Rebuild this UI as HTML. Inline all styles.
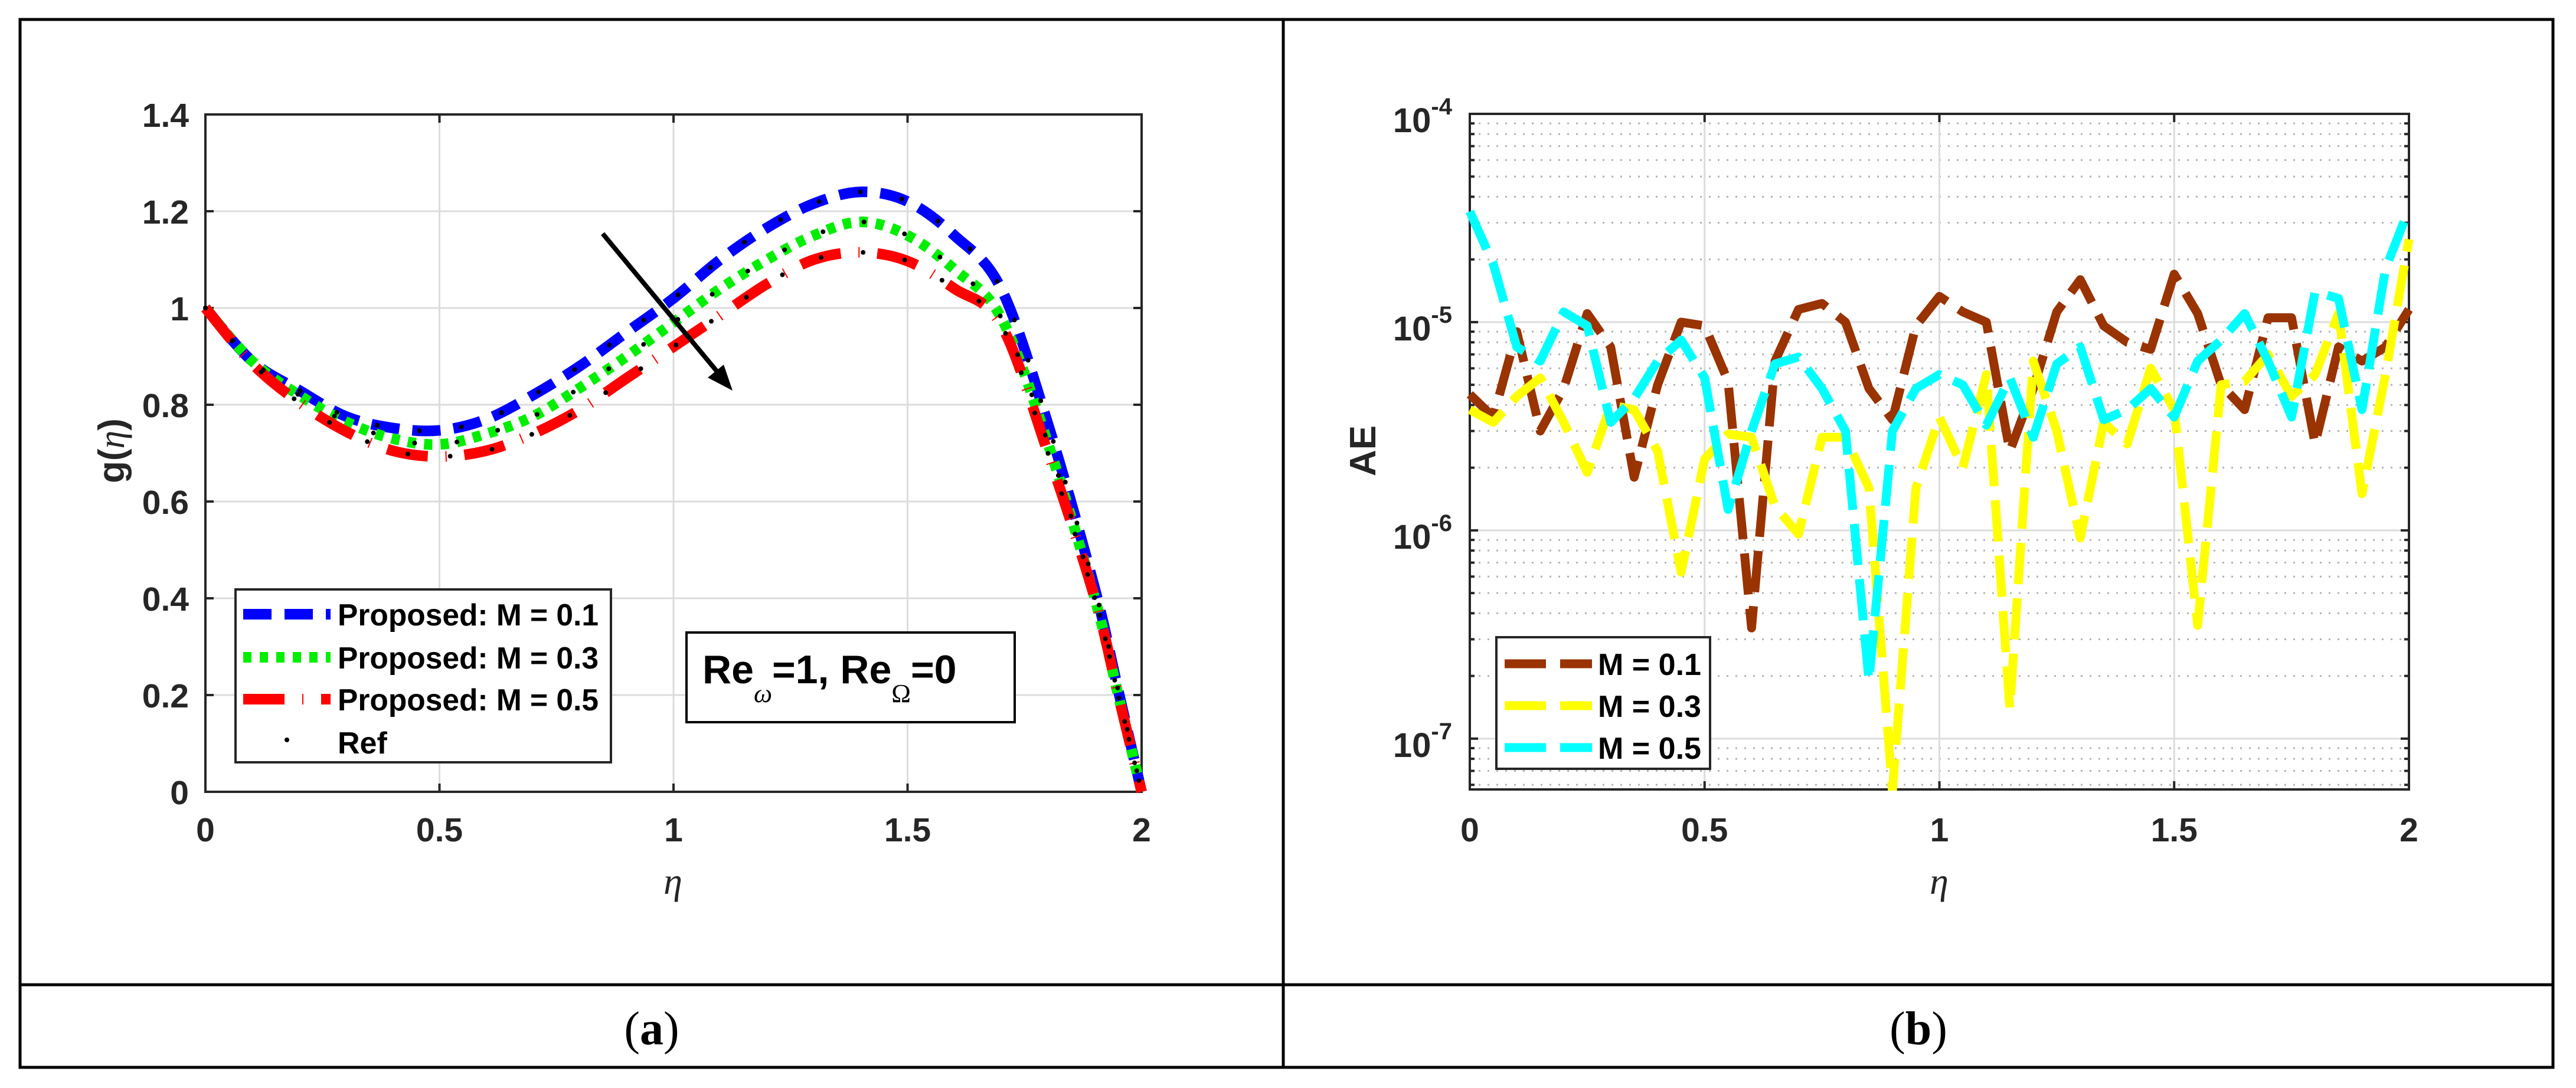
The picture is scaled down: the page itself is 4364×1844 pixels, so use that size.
<!DOCTYPE html>
<html><head><meta charset="utf-8"><style>
html,body{margin:0;padding:0;background:#fff;}
svg{display:block;}
text{font-family:"Liberation Sans",Arial,sans-serif;}
</style></head><body>
<svg id="fig" width="4364" height="1844" viewBox="0 0 4364 1844" xmlns="http://www.w3.org/2000/svg">
<g stroke="#000" stroke-width="5" fill="none">
<rect x="34" y="33" width="4291" height="1776"/>
<line x1="2174" y1="33" x2="2174" y2="1809"/>
<line x1="34" y1="1669" x2="4325" y2="1669"/>
</g>
<text x="1104" y="1770" text-anchor="middle" font-size="80" style="font-family:'Liberation Serif',serif">(<tspan font-weight="bold">a</tspan>)</text>
<text x="3250" y="1770" text-anchor="middle" font-size="80" style="font-family:'Liberation Serif',serif">(<tspan font-weight="bold">b</tspan>)</text>
<g id="chartA"></g>
<g id="chartB"></g>
</svg>
<script>
// ---------- Chart A data ----------
const etaA = [0,0.1,0.2,0.3,0.4,0.5,0.6,0.7,0.8,0.9,1.0,1.1,1.2,1.3,1.4,1.5,1.6,1.7,1.8,1.9,1.95,2.0];
const gM01 = [1,0.89,0.83,0.776,0.752,0.747,0.77,0.82,0.88,0.95,1.02,1.10,1.166,1.216,1.24,1.22,1.15,1.04,0.76,0.42,0.21,0];
const gM03 = [1,0.89,0.82,0.765,0.73,0.718,0.74,0.776,0.835,0.9,0.97,1.04,1.10,1.15,1.178,1.15,1.08,0.98,0.72,0.40,0.2,0];
const gM05 = [1,0.885,0.805,0.745,0.705,0.693,0.705,0.74,0.79,0.855,0.92,0.985,1.05,1.10,1.115,1.097,1.04,0.965,0.70,0.40,0.2,0];
const xTicksA = [0,0.5,1,1.5,2];
const yTicksA = [0,0.2,0.4,0.6,0.8,1,1.2,1.4];
// ---------- Chart B data ----------
const etaB = [0,0.05,0.1,0.15,0.2,0.25,0.3,0.35,0.4,0.45,0.5,0.55,0.6,0.65,0.7,0.75,0.8,0.85,0.9,0.95,1.0,1.05,1.1,1.15,1.2,1.25,1.3,1.35,1.4,1.45,1.5,1.55,1.6,1.65,1.7,1.75,1.8,1.85,1.9,1.95,2.0];
const aeM01 = [4.5e-6,3.5e-6,9e-6,3e-6,4.8e-6,1.1e-5,7.6e-6,1.8e-6,5e-6,1e-5,9.6e-6,5.2e-6,3.4e-7,6.5e-6,1.15e-5,1.23e-5,1e-5,4.8e-6,3.4e-6,9.6e-6,1.33e-5,1.12e-5,1e-5,2.4e-6,4.8e-6,1.12e-5,1.6e-5,9.6e-6,8e-6,7.4e-6,1.7e-5,1.1e-5,5e-6,3.8e-6,1.05e-5,1.05e-5,2.6e-6,7.6e-6,6.5e-6,7.6e-6,1.15e-5];
const aeM03 = [3.8e-6,3.3e-6,4.4e-6,5.4e-6,3.3e-6,1.9e-6,4e-6,3.8e-6,2.4e-6,6.3e-7,2.2e-6,2.9e-6,2.8e-6,1.3e-6,9.6e-7,2.8e-6,2.8e-6,1.6e-6,5.6e-8,1.6e-6,3.5e-6,2e-6,5.6e-6,1.4e-7,6.5e-6,3e-6,9.2e-7,3.3e-6,2.6e-6,6e-6,3.8e-6,3.5e-7,5e-6,5.2e-6,7e-6,4.4e-6,5.6e-6,1.1e-5,1.5e-6,5.6e-6,2.5e-5];
const aeM05 = [3.4e-5,1.9e-5,7.6e-6,6.5e-6,1.12e-5,9.6e-6,3.3e-6,4.3e-6,6.5e-6,8.2e-6,5.4e-6,1.26e-6,3e-6,6.3e-6,6.8e-6,4.8e-6,3e-6,1.9e-7,3e-6,4.8e-6,5.6e-6,5e-6,3.2e-6,5.4e-6,2.8e-6,6.3e-6,7.6e-6,3.4e-6,3.8e-6,4.8e-6,3.5e-6,6.5e-6,8.2e-6,1.1e-5,6.5e-6,3.5e-6,1.4e-5,1.3e-5,3.8e-6,1.8e-5,3.5e-5];
const xTicksB = [0,0.5,1,1.5,2];
const yDecadesB = [-7,-6,-5,-4];

const NS = "http://www.w3.org/2000/svg";
function mk(parent, tag, attrs){const e=document.createElementNS(NS,tag);for(const k in attrs)e.setAttribute(k,attrs[k]);parent.appendChild(e);return e;}

// ===== Chart A =====
(function(){
const g=document.getElementById('chartA');
const L=348,R=1934,T=194,B=1342;
const xs=v=>L+(v-0)/(2-0)*(R-L);
const ys=v=>B-(v-0)/(1.4-0)*(B-T);
for(const t of xTicksA){
 const l=mk(g,'line',{x1:xs(t),y1:T,x2:xs(t),y2:B,stroke:'#dcdcdc','stroke-width':3});
 
 
 const tx=mk(g,'text',{x:xs(t),y:1426,'text-anchor':'middle','font-size':57,'font-weight':'bold',fill:'#262626'});
 tx.textContent=String(t);
 
 
 mk(g,'line',{x1:xs(t),y1:B,x2:xs(t),y2:B-14,stroke:'#262626','stroke-width':4});
 mk(g,'line',{x1:xs(t),y1:T,x2:xs(t),y2:T+14,stroke:'#262626','stroke-width':4});
}
for(const t of yTicksA){
 const l=mk(g,'line',{x1:L,y1:ys(t),x2:R,y2:ys(t),stroke:'#dcdcdc','stroke-width':3});
 
 
 const tx=mk(g,'text',{x:320,y:ys(t)+21,'text-anchor':'end','font-size':57,'font-weight':'bold',fill:'#262626'});
 tx.textContent=String(t);
 
 
 mk(g,'line',{x1:L,y1:ys(t),x2:L+14,y2:ys(t),stroke:'#262626','stroke-width':4});
 mk(g,'line',{x1:R,y1:ys(t),x2:R-14,y2:ys(t),stroke:'#262626','stroke-width':4});
}
const ax=mk(g,'rect',{x:L,y:T,width:R-L,height:B-T,fill:'none',stroke:'#262626','stroke-width':4});


function smooth(xv,yv){
 // Catmull-Rom through data points
 const p=xv.map((x,i)=>[xs(x),ys(yv[i])]);
 let d='M'+p[0][0]+','+p[0][1];
 for(let i=0;i<p.length-1;i++){
  const p0=p[Math.max(0,i-1)],p1=p[i],p2=p[i+1],p3=p[Math.min(p.length-1,i+2)];
  d+=' C'+(p1[0]+(p2[0]-p0[0])/6)+','+(p1[1]+(p2[1]-p0[1])/6)+' '+(p2[0]-(p3[0]-p1[0])/6)+','+(p2[1]-(p3[1]-p1[1])/6)+' '+p2[0]+','+p2[1];
 }
 return d;
}
const series=[[gM01,'#0000ff','48 22','series-m01'],[gM03,'#00ee00','14 14','series-m03'],[gM05,'#ff0000','70 30 2 30','series-m05']];
for(const s of series){
 const p=mk(g,'path',{d:smooth(etaA,s[0]),fill:'none',stroke:s[1],'stroke-width':18,'stroke-dasharray':s[2]});
 
 
}
// reference dots along each curve
for(const s of series){
 const d=smooth(etaA,s[0]);
 const tmp=mk(g,'path',{d:d,fill:'none',stroke:'none'});
 const len=tmp.getTotalLength();
 for(let k=0;k<=len;k+=72){
  const pt=tmp.getPointAtLength(k);
  const c=mk(g,'circle',{cx:pt.x,cy:pt.y,r:4,fill:'#000'});
  
  
 }
 tmp.remove();
}
// arrow
const ar=mk(g,'g',{});


mk(ar,'line',{x1:1021,y1:396,x2:1225,y2:642,stroke:'#000','stroke-width':8});
mk(ar,'polygon',{points:'1241,662 1199,640 1226,618',fill:'#000'});
// labels
const xl=mk(g,'text',{x:1140,y:1515,'text-anchor':'middle','font-size':64,'font-style':'italic',style:"font-family:'Liberation Serif',serif",fill:'#262626'});
xl.textContent='η';


const yl=mk(g,'text',{x:0,y:0,'text-anchor':'middle','font-size':62,'font-weight':'bold',fill:'#262626',transform:'translate(210,764) rotate(-90)'});
yl.innerHTML='g(<tspan font-style="italic" font-weight="normal" style="font-family:Liberation Serif,serif">η</tspan>)';


// legend
const lg=mk(g,'g',{});


mk(lg,'rect',{x:399,y:999,width:636,height:293,fill:'#fff',stroke:'#262626','stroke-width':4});
const names=['Proposed: M = 0.1','Proposed: M = 0.3','Proposed: M = 0.5','Ref'];
const ly=[1041,1114,1185,1258];
for(let i=0;i<4;i++){
 if(i<3) mk(lg,'line',{x1:412,y1:ly[i],x2:560,y2:ly[i],stroke:series[i][1],'stroke-width':18,'stroke-dasharray':series[i][2]});
 else mk(lg,'circle',{cx:486,cy:ly[i]-4,r:4,fill:'#000'});
 const t=mk(lg,'text',{x:572,y:ly[i]+19,'font-size':52,'font-weight':'bold',fill:'#000'});
 if(i<3){t.setAttribute('textLength',442);t.setAttribute('lengthAdjust','spacingAndGlyphs');}
 t.textContent=names[i];
 
 
}
// parameter box
const pb=mk(g,'g',{});


mk(pb,'rect',{x:1163,y:1072,width:556,height:152,fill:'#fff',stroke:'#000','stroke-width':4});
const pt=mk(pb,'text',{x:1190,y:1158,'font-size':68,'font-weight':'bold',fill:'#000'});
pt.innerHTML='Re<tspan dy="32" font-size="44" font-weight="normal" font-style="italic" style="font-family:Liberation Serif,serif">ω</tspan><tspan dy="-32">=1, Re</tspan><tspan dy="32" font-size="44" font-weight="normal" style="font-family:Liberation Serif,serif">Ω</tspan><tspan dy="-32">=0</tspan>';
})();

// ===== Chart B =====
(function(){
const g=document.getElementById('chartB');
const L=2490,R=4081,T=193,B=1338;
const lmin=-7.244,lmax=-4;
const xs=v=>L+v/2*(R-L);
const ys=v=>B-(Math.log10(v)-lmin)/(lmax-lmin)*(B-T);
// minor grid
for(let d=-8;d<=-5;d++){
 for(let m=2;m<=9;m++){
  const v=m*Math.pow(10,d);
  if(Math.log10(v)<lmin||Math.log10(v)>lmax) continue;
  const l=mk(g,'line',{x1:L,y1:ys(v),x2:R,y2:ys(v),stroke:'#b4b4b4','stroke-width':3,'stroke-dasharray':'3 12'});
  
  
  mk(g,'line',{x1:L,y1:ys(v),x2:L+8,y2:ys(v),stroke:'#262626','stroke-width':4});
  mk(g,'line',{x1:R,y1:ys(v),x2:R-8,y2:ys(v),stroke:'#262626','stroke-width':4});
 }
}
for(const t of xTicksB){
 const l=mk(g,'line',{x1:xs(t),y1:T,x2:xs(t),y2:B,stroke:'#dcdcdc','stroke-width':3});
 
 
 const tx=mk(g,'text',{x:xs(t),y:1426,'text-anchor':'middle','font-size':57,'font-weight':'bold',fill:'#262626'});
 tx.textContent=String(t);
 
 
 mk(g,'line',{x1:xs(t),y1:B,x2:xs(t),y2:B-14,stroke:'#262626','stroke-width':4});
 mk(g,'line',{x1:xs(t),y1:T,x2:xs(t),y2:T+14,stroke:'#262626','stroke-width':4});
}
for(const d of yDecadesB){
 const v=Math.pow(10,d);
 const l=mk(g,'line',{x1:L,y1:ys(v),x2:R,y2:ys(v),stroke:'#dcdcdc','stroke-width':3});
 
 
 mk(g,'line',{x1:L,y1:ys(v),x2:L+14,y2:ys(v),stroke:'#262626','stroke-width':4});
 mk(g,'line',{x1:R,y1:ys(v),x2:R-14,y2:ys(v),stroke:'#262626','stroke-width':4});
 const tx=mk(g,'text',{x:2460,y:ys(v)+31,'text-anchor':'end','font-size':58,'font-weight':'bold',fill:'#262626'});
 tx.innerHTML='10<tspan dy="-30" font-size="40">'+d+'</tspan>';
 
 
}
const ax=mk(g,'rect',{x:L,y:T,width:R-L,height:B-T,fill:'none',stroke:'#262626','stroke-width':4});


const clip=mk(g,'clipPath',{id:'clipB'});
mk(clip,'rect',{x:L-20,y:T-20,width:R-L+40,height:B-T+22});
const series=[[aeM01,'#993300','series-m01'],[aeM03,'#ffff00','series-m03'],[aeM05,'#00ffff','series-m05']];
for(const s of series){
 const pts=etaB.map((x,i)=>xs(x)+','+ys(s[0][i])).join(' ');
 const p=mk(g,'polyline',{points:pts,fill:'none',stroke:s[1],'stroke-width':15,'stroke-dasharray':'70 24','stroke-linejoin':'round','clip-path':'url(#clipB)'});
 
 
}
const xl=mk(g,'text',{x:3285,y:1515,'text-anchor':'middle','font-size':64,'font-style':'italic',style:"font-family:'Liberation Serif',serif",fill:'#262626'});
xl.textContent='η';


const yl=mk(g,'text',{x:0,y:0,'text-anchor':'middle','font-size':62,'font-weight':'bold',fill:'#262626',transform:'translate(2330,764) rotate(-90)'});
yl.textContent='AE';


const lg=mk(g,'g',{});


mk(lg,'rect',{x:2535,y:1080,width:362,height:223,fill:'#fff',stroke:'#262626','stroke-width':4});
const names=['M = 0.1','M = 0.3','M = 0.5'];
const ly=[1125,1196,1267];
for(let i=0;i<3;i++){
 mk(lg,'line',{x1:2549,y1:ly[i],x2:2697,y2:ly[i],stroke:series[i][1],'stroke-width':15,'stroke-dasharray':'70 24'});
 const t=mk(lg,'text',{x:2707,y:ly[i]+19,'font-size':52,'font-weight':'bold',fill:'#000'});
 t.setAttribute('textLength',175);
 t.setAttribute('lengthAdjust','spacingAndGlyphs');
 t.textContent=names[i];
 
 
}
})();
</script>
</body></html>
